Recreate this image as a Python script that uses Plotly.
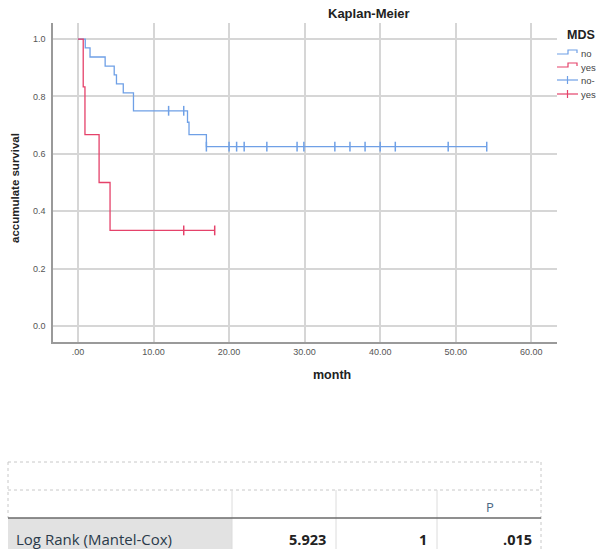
import plotly.graph_objects as go

# ---- data ----
no_time = [0, 0.97, 1.6, 3.6, 4.8, 5.1, 6.0, 7.35, 14.5, 14.7, 17.0, 54.1]
no_surv = [1.0, 0.969, 0.9375, 0.906, 0.875, 0.844, 0.8125, 0.75, 0.71, 0.667, 0.625, 0.625]
no_cens_time = [12.0, 14.0, 17.0, 20.0, 21.0, 22.0, 25.0, 29.0, 29.9, 34.0, 36.0, 38.0, 40.0, 42.0, 49.0, 54.1]
no_cens_surv = [0.75, 0.75, 0.625, 0.625, 0.625, 0.625, 0.625, 0.625, 0.625, 0.625, 0.625, 0.625, 0.625, 0.625, 0.625, 0.625]

yes_time = [0, 0.7, 0.93, 2.8, 4.25, 18.1]
yes_surv = [1.0, 0.833, 0.667, 0.5, 0.333, 0.333]
yes_cens_time = [14.0, 18.1]
yes_cens_surv = [0.333, 0.333]

x_ticks = [0, 10, 20, 30, 40, 50, 60]
x_tick_labels = [".00", "10.00", "20.00", "30.00", "40.00", "50.00", "60.00"]
y_ticks = [0.0, 0.2, 0.4, 0.6, 0.8, 1.0]

# legend labels as visible in the reference (truncated at the picture edge)
legend_labels = ["no", "yes", "no-", "yes"]
table_header = ["", "", "P"]
table_row_label = "Log Rank (Mantel-Cox)"
table_row_values = ["5.923", "1", ".015"]

BLUE = "#6fa0e6"
RED = "#e5426a"

W, H = 600, 549
L, R, T, B = 53, 557, 23, 342


def px(x):
    return (x - L) / (R - L)


def py(y):
    return (B - y) / (B - T)


def text_at(x, y, text, size, color="#222", family="Liberation Sans", xanchor="center", angle=0):
    return dict(x=px(x), y=py(y), xref="paper", yref="paper", text=text, showarrow=False,
                xanchor=xanchor, yanchor="middle", textangle=angle,
                font=dict(family=family, size=size, color=color))


fig = go.Figure()
fig.add_trace(go.Scatter(x=no_time, y=no_surv, mode="lines", line=dict(color=BLUE, width=1.3, shape="hv"),
                         showlegend=False, hoverinfo="skip"))
fig.add_trace(go.Scatter(x=yes_time, y=yes_surv, mode="lines", line=dict(color=RED, width=1.3, shape="hv"),
                         showlegend=False, hoverinfo="skip"))
fig.add_trace(go.Scatter(x=no_cens_time, y=no_cens_surv, mode="markers",
                         marker=dict(symbol="line-ns-open", size=7, color=BLUE, line=dict(color=BLUE, width=1.5)),
                         showlegend=False, hoverinfo="skip"))
fig.add_trace(go.Scatter(x=yes_cens_time, y=yes_cens_surv, mode="markers",
                         marker=dict(symbol="line-ns-open", size=7, color=RED, line=dict(color=RED, width=1.5)),
                         showlegend=False, hoverinfo="skip"))

shapes = []
annotations = []

# title / axis titles
annotations.append(text_at(369, 14, "<b>Kaplan-Meier</b>", 13))
annotations.append(text_at(332, 375, "<b>month</b>", 12.5))
annotations.append(text_at(15, 188, "<b>accumulate survival</b>", 11.5, angle=-90))

# legend
annotations.append(text_at(565, 35, "<b>MDS</b>", 12.5, xanchor="left"))
leg_y = [54, 67, 80, 94]
leg_colors = [BLUE, RED, BLUE, RED]
for i, (lab, yy, c) in enumerate(zip(legend_labels, leg_y, leg_colors)):
    if i < 2:
        shapes.append(dict(type="path", xref="paper", yref="paper",
                           path=f"M {px(557)},{py(yy)} L {px(568)},{py(yy)} L {px(568)},{py(yy-4)} "
                                f"L {px(577)},{py(yy-4)} L {px(577)},{py(yy-1)}",
                           line=dict(color=c, width=1.2)))
    else:
        shapes.append(dict(type="line", xref="paper", yref="paper", x0=px(557), x1=px(578),
                           y0=py(yy), y1=py(yy), line=dict(color=c, width=1.2)))
        shapes.append(dict(type="line", xref="paper", yref="paper", x0=px(567.5), x1=px(567.5),
                           y0=py(yy - 4), y1=py(yy + 4), line=dict(color=c, width=1.2)))
    annotations.append(text_at(579, yy, lab, 9.5, color="#444", xanchor="left"))

# table
TL, TR = 8, 541
cols = [232, 336, 437]
DOT = dict(color="#c8c8c8", width=1, dash="dot")
SOL = dict(color="#dcdcdc", width=1)
shapes.append(dict(type="rect", xref="paper", yref="paper", x0=px(TL), x1=px(232), y0=py(518), y1=py(560),
                   fillcolor="#e2e2e2", line=dict(width=0), layer="below"))
shapes.append(dict(type="line", xref="paper", yref="paper", x0=px(TL), x1=px(TR), y0=py(462), y1=py(462), line=DOT))
shapes.append(dict(type="line", xref="paper", yref="paper", x0=px(TL), x1=px(TR), y0=py(490), y1=py(490), line=DOT))
shapes.append(dict(type="line", xref="paper", yref="paper", x0=px(TL), x1=px(TL), y0=py(462), y1=py(518), line=DOT))
shapes.append(dict(type="line", xref="paper", yref="paper", x0=px(TR), x1=px(TR), y0=py(462), y1=py(560), line=DOT))
for cx in cols:
    shapes.append(dict(type="line", xref="paper", yref="paper", x0=px(cx), x1=px(cx), y0=py(490), y1=py(560),
                       line=SOL))
shapes.append(dict(type="line", xref="paper", yref="paper", x0=px(TL), x1=px(TR), y0=py(518), y1=py(518),
                   line=dict(color="#6a6a6a", width=1.5)))

annotations.append(text_at(490, 507, table_header[2], 13, color="#4b6783", family="Open Sans"))
annotations.append(text_at(14, 539, table_row_label, 15, color="#2a3a4a", family="Open Sans", xanchor="left"))
rights = [328, 429, 534]
for v, rx in zip(table_row_values, rights):
    annotations.append(text_at(rx, 539, f"<b>{v}</b>", 14.5, family="Open Sans", xanchor="right"))

fig.update_layout(
    width=W, height=H,
    margin=dict(l=L, r=W - R, t=T, b=H - B, pad=0),
    paper_bgcolor="white", plot_bgcolor="white",
    shapes=shapes, annotations=annotations,
    xaxis=dict(range=[-3.3, 63.4], tickvals=x_ticks, ticktext=x_tick_labels, automargin=False,
               showgrid=True, gridcolor="#d6d6d6", gridwidth=1.5, zeroline=False,
               showline=True, linecolor="#9a9a9a", linewidth=1.5, ticks="",
               ticklabelstandoff=0,
               tickfont=dict(family="Liberation Sans", size=9, color="#555")),
    yaxis=dict(range=[-0.056, 1.056], tickvals=y_ticks, tickformat=".1f", automargin=False,
               showgrid=True, gridcolor="#d6d6d6", gridwidth=1.5, zeroline=False,
               showline=True, linecolor="#9a9a9a", linewidth=1.5, ticks="",
               ticklabelstandoff=4,
               tickfont=dict(family="Liberation Sans", size=9, color="#555")),
)

fig.write_html("out.html", config={"displayModeBar": False},
               post_script="document.body.style.margin='0';document.body.style.overflow='hidden';")
